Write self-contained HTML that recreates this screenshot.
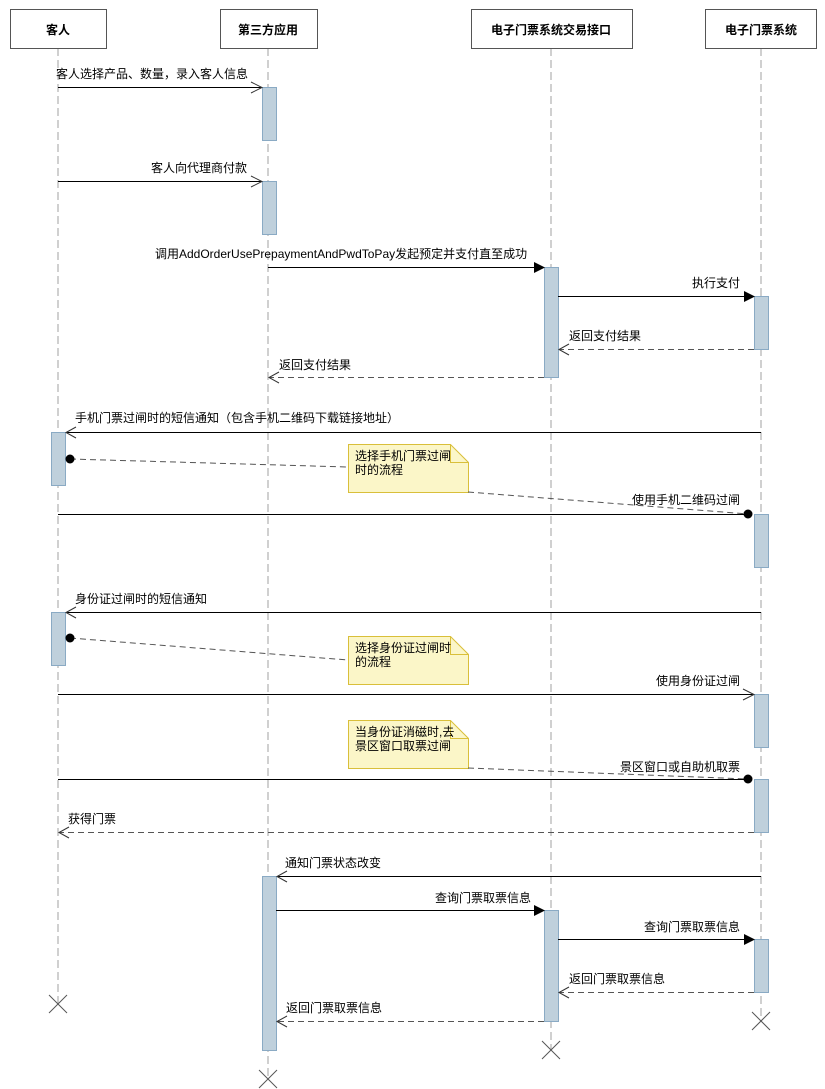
<!DOCTYPE html>
<html><head><meta charset="utf-8"><style>
html,body{margin:0;padding:0;background:#fff;}
svg{display:block;font-family:"Liberation Sans","Noto Sans CJK SC",sans-serif;}
text{font-size:12px;fill:#000;}
.ll{stroke:#c0c0c0;stroke-width:1.5;stroke-dasharray:8 4;fill:none;}
.act{fill:#bfd0dc;stroke:#8aaac4;stroke-width:1;}
.m{stroke:#000;stroke-width:1;fill:none;}
.d{stroke:#555;stroke-width:1;fill:none;stroke-dasharray:6 4;}
.op{stroke:#333;stroke-width:1;fill:none;}
.note{fill:#fbf6c8;stroke:#d9bf3a;stroke-width:1;}
.hd{fill:#fff;stroke:#555;stroke-width:1;}
.x{stroke:#555;stroke-width:1;}
</style></head><body>
<svg width="825" height="1089" viewBox="0 0 825 1089">
<!-- lifelines -->
<line class="ll" x1="58" y1="48" x2="58" y2="1004"/>
<line class="ll" x1="268" y1="48" x2="268" y2="1079"/>
<line class="ll" x1="551" y1="48" x2="551" y2="1050"/>
<line class="ll" x1="761" y1="48" x2="761" y2="1021"/>
<!-- headers -->
<rect class="hd" x="10.5" y="9.5" width="96" height="39"/>
<rect class="hd" x="220.5" y="9.5" width="97" height="39"/>
<rect class="hd" x="471.5" y="9.5" width="161" height="39"/>
<rect class="hd" x="705.5" y="9.5" width="111" height="39"/>
<g font-weight="bold" text-anchor="middle">
<text x="58" y="34" font-weight="bold">客人</text>
<text x="268" y="34" font-weight="bold">第三方应用</text>
<text x="551" y="34" font-weight="bold">电子门票系统交易接口</text>
<text x="761" y="34" font-weight="bold">电子门票系统</text>
</g>
<!-- activations -->
<rect class="act" x="262.5" y="87.5" width="14" height="53"/>
<rect class="act" x="262.5" y="181.5" width="14" height="53"/>
<rect class="act" x="544.5" y="267.5" width="14" height="110"/>
<rect class="act" x="754.5" y="296.5" width="14" height="53"/>
<rect class="act" x="51.5" y="432.5" width="14" height="53"/>
<rect class="act" x="754.5" y="514.5" width="14" height="53"/>
<rect class="act" x="51.5" y="612.5" width="14" height="53"/>
<rect class="act" x="754.5" y="694.5" width="14" height="53"/>
<rect class="act" x="754.5" y="779.5" width="14" height="53"/>
<rect class="act" x="262.5" y="876.5" width="14" height="174"/>
<rect class="act" x="544.5" y="910.5" width="14" height="111"/>
<rect class="act" x="754.5" y="939.5" width="14" height="53"/>
<!-- messages -->
<line class="m" x1="58" y1="87.5" x2="262" y2="87.5"/><polyline class="op" points="251,82 262,87.5 251,93"/>
<text x="56" y="78">客人选择产品、数量，录入客人信息</text>
<line class="m" x1="58" y1="181.5" x2="262" y2="181.5"/><polyline class="op" points="251,176 262,181.5 251,187"/>
<text x="247" y="172" text-anchor="end">客人向代理商付款</text>
<line class="m" x1="268" y1="267.5" x2="535" y2="267.5"/><polygon points="534,262 545,267.5 534,273" fill="#000"/>
<text x="155" y="258">调用AddOrderUsePrepaymentAndPwdToPay发起预定并支付直至成功</text>
<line class="m" x1="558" y1="296.5" x2="745" y2="296.5"/><polygon points="744,291 755,296.5 744,302" fill="#000"/>
<text x="740" y="287" text-anchor="end">执行支付</text>
<line class="d" x1="754" y1="349.5" x2="559" y2="349.5"/><polyline class="op" points="569,344 559,349.5 569,355"/>
<text x="569" y="340">返回支付结果</text>
<line class="d" x1="544" y1="377.5" x2="269" y2="377.5"/><polyline class="op" points="279,372 269,377.5 279,383"/>
<text x="279" y="369">返回支付结果</text>
<line class="m" x1="761" y1="432.5" x2="66" y2="432.5"/><polyline class="op" points="76,427 66,432.5 76,438"/>
<text x="75" y="422">手机门票过闸时的短信通知（包含手机二维码下载链接地址）</text>
<!-- note 1 -->
<line class="d" x1="70" y1="459" x2="348" y2="467"/><circle cx="70" cy="459" r="4.5" fill="#000"/>
<path class="note" d="M348.5,444.5 H450.5 L468.5,462.5 V492.5 H348.5 Z"/><polyline points="450.5,444.5 450.5,462.5 468.5,462.5" fill="none" stroke="#d9bf3a"/>
<text x="355" y="460">选择手机门票过闸</text><text x="355" y="474">时的流程</text>
<line class="d" x1="468" y1="492" x2="748" y2="514"/>
<line class="m" x1="58" y1="514.5" x2="748" y2="514.5"/><circle cx="748" cy="514" r="4.5" fill="#000"/>
<text x="740" y="504" text-anchor="end">使用手机二维码过闸</text>
<line class="m" x1="761" y1="612.5" x2="66" y2="612.5"/><polyline class="op" points="76,607 66,612.5 76,618"/>
<text x="75" y="603">身份证过闸时的短信通知</text>
<!-- note 2 -->
<line class="d" x1="70" y1="638" x2="348" y2="660"/><circle cx="70" cy="638" r="4.5" fill="#000"/>
<path class="note" d="M348.5,636.5 H450.5 L468.5,654.5 V684.5 H348.5 Z"/><polyline points="450.5,636.5 450.5,654.5 468.5,654.5" fill="none" stroke="#d9bf3a"/>
<text x="355" y="652">选择身份证过闸时</text><text x="355" y="666">的流程</text>
<line class="m" x1="58" y1="694.5" x2="754" y2="694.5"/><polyline class="op" points="743,689 754,694.5 743,700"/>
<text x="740" y="685" text-anchor="end">使用身份证过闸</text>
<!-- note 3 -->
<path class="note" d="M348.5,720.5 H450.5 L468.5,738.5 V768.5 H348.5 Z"/><polyline points="450.5,720.5 450.5,738.5 468.5,738.5" fill="none" stroke="#d9bf3a"/>
<text x="355" y="736">当身份证消磁时,去</text><text x="355" y="750">景区窗口取票过闸</text>
<line class="d" x1="468" y1="768" x2="748" y2="779"/>
<line class="m" x1="58" y1="779.5" x2="748" y2="779.5"/><circle cx="748" cy="779" r="4.5" fill="#000"/>
<text x="740" y="771" text-anchor="end">景区窗口或自助机取票</text>
<line class="d" x1="754" y1="832.5" x2="59" y2="832.5"/><polyline class="op" points="69,827 59,832.5 69,838"/>
<text x="68" y="823">获得门票</text>
<line class="m" x1="761" y1="876.5" x2="277" y2="876.5"/><polyline class="op" points="287,871 277,876.5 287,882"/>
<text x="285" y="867">通知门票状态改变</text>
<line class="m" x1="276" y1="910.5" x2="535" y2="910.5"/><polygon points="534,905 545,910.5 534,916" fill="#000"/>
<text x="531" y="902" text-anchor="end">查询门票取票信息</text>
<line class="m" x1="558" y1="939.5" x2="745" y2="939.5"/><polygon points="744,934 755,939.5 744,945" fill="#000"/>
<text x="740" y="931" text-anchor="end">查询门票取票信息</text>
<line class="d" x1="754" y1="992.5" x2="559" y2="992.5"/><polyline class="op" points="569,987 559,992.5 569,998"/>
<text x="569" y="983">返回门票取票信息</text>
<line class="d" x1="544" y1="1021.5" x2="277" y2="1021.5"/><polyline class="op" points="287,1016 277,1021.5 287,1027"/>
<text x="286" y="1012">返回门票取票信息</text>
<!-- destroy marks -->
<g class="x">
<line x1="49" y1="995" x2="67" y2="1013"/><line x1="67" y1="995" x2="49" y2="1013"/>
<line x1="752" y1="1012" x2="770" y2="1030"/><line x1="770" y1="1012" x2="752" y2="1030"/>
<line x1="542" y1="1041" x2="560" y2="1059"/><line x1="560" y1="1041" x2="542" y2="1059"/>
<line x1="259" y1="1070" x2="277" y2="1088"/><line x1="277" y1="1070" x2="259" y2="1088"/>
</g>
</svg>
</body></html>
